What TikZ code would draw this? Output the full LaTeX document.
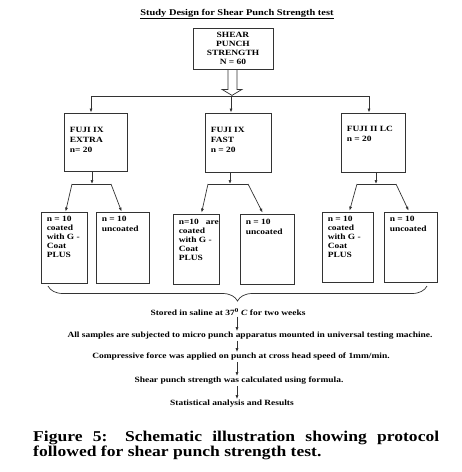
\documentclass[tikz,border=0pt]{standalone}
\usepackage{fontspec}
\setmainfont{Liberation Serif}
\newfontfamily\dfont[FakeStretch=1.18]{Liberation Serif}
\newfontfamily\cfont[FakeStretch=1.17]{Liberation Serif}
\usetikzlibrary{arrows.meta,calc,decorations.pathreplacing}
\begin{document}
\begin{tikzpicture}[x=1pt,y=-1pt]
\tikzset{
 bx/.style={draw=black!80, line width=0.8pt, inner sep=0pt},
 btxt/.style={font=\dfont\bfseries\fontsize{8}{9}\selectfont, align=left, inner sep=0pt, anchor=north west},
 btxtw/.style={font=\dfont\bfseries\fontsize{8}{10}\selectfont, align=left, inner sep=0pt, anchor=north west},
 ln/.style={draw=black!80, line width=0.7pt},
 arr/.style={ln, -{Latex[length=4pt,width=3pt]}},
 flow/.style={font=\dfont\bfseries\fontsize{8}{9}\selectfont, inner sep=1pt},
}
\useasboundingbox[fill=white] (0,0) rectangle (462,472);

\node[font=\dfont\bfseries\fontsize{8.8}{10}\selectfont] (title) at (237,14) {\underline{Study Design for Shear Punch Strength test}};

\node[bx, minimum width=80pt, minimum height=41pt, align=center, font=\dfont\bfseries\fontsize{8}{9}\selectfont] (top) at (233,48.5) {SHEAR\\PUNCH\\STRENGTH\\N = 60};

\draw[ln] ($(top.south)+(-5,0)$) -- ($(top.south)+(-5,20)$) -- ($(top.south)+(-11,20)$) -- ($(top.south)+(-1,26)$) -- ($(top.south)+(9,20)$) -- ($(top.south)+(4,20)$) -- ($(top.south)+(4,0)$);

\node[bx, minimum width=63pt, minimum height=58pt] (f1) at (95.5,142) {};
\node[bx, minimum width=66pt, minimum height=59pt] (f2) at (238,142.5) {};
\node[bx, minimum width=64pt, minimum height=59pt] (f3) at (373,142.5) {};
\node[btxtw] (f1t) at ($(f1.north west)+(6,14)$) {FUJI IX\\EXTRA\\n= 20};
\node[btxtw] (f2t) at ($(f2.north west)+(6,14)$) {FUJI IX\\FAST\\n = 20};
\node[btxtw] (f3t) at ($(f3.north west)+(6,13)$) {FUJI II LC\\n = 20};

\coordinate (h1) at (91,96);
\coordinate (h2) at (231,96);
\coordinate (h3) at (369,96);
\draw[ln] (h1) -- (h3);
\draw[arr] (h1) -- (h1 |- f1.north);
\draw[arr] (h2) -- (h2 |- f2.north);
\draw[arr] (h3) -- (h3 |- f3.north);

\node[bx, minimum width=46pt, minimum height=71pt] (s1a) at (64,247.5) {};
\node[bx, minimum width=53pt, minimum height=71pt] (s1b) at (122.5,247.5) {};
\node[bx, minimum width=46pt, minimum height=70pt] (s2a) at (196,249) {};
\node[bx, minimum width=54pt, minimum height=70pt] (s2b) at (267,249) {};
\node[bx, minimum width=51pt, minimum height=70pt] (s3a) at (347.5,247) {};
\node[bx, minimum width=53pt, minimum height=70pt] (s3b) at (410.5,247) {};

\node[btxt] (s1at) at ($(s1a.north west)+(6,4)$) {n = 10\\coated\\with G -\\Coat\\PLUS};
\node[btxtw] (s1bt) at ($(s1b.north west)+(6,4)$) {n = 10\\uncoated};
\node[btxt] (s2at) at ($(s2a.north west)+(6,5)$) {n=10~~ are\\coated\\with G -\\Coat\\PLUS};
\node[btxtw] (s2bt) at ($(s2b.north west)+(6,5)$) {n = 10\\uncoated};
\node[btxt] (s3at) at ($(s3a.north west)+(6,4)$) {n = 10\\coated\\with G -\\Coat\\PLUS};
\node[btxtw] (s3bt) at ($(s3b.north west)+(6,4)$) {n = 10\\uncoated};

\coordinate (j1) at (92,184);
\coordinate (j1l) at (72,184);
\coordinate (j1r) at (111,184);
\draw[arr] (j1 |- f1.south) -- (j1);
\draw[ln] (j1l) -- (j1r);
\draw[arr] (j1l) -- ($(s1a.north west)+(25,0)$);
\draw[arr] (j1r) -- ($(s1b.north west)+(26,0)$);

\coordinate (j2) at (230,184);
\coordinate (j2l) at (208,184);
\coordinate (j2r) at (248,184);
\draw[arr] (j2 |- f2.south) -- (j2);
\draw[ln] (j2l) -- (j2r);
\draw[arr] (j2l) -- ($(s2a.north west)+(29,-1)$);
\draw[arr] (j2r) -- ($(s2b.north west)+(23,-1)$);

\coordinate (j3) at (376,184);
\coordinate (j3l) at (357,184);
\coordinate (j3r) at (396,184);
\draw[arr] (j3 |- f3.south) -- (j3);
\draw[ln] (j3l) -- (j3r);
\draw[arr] (j3l) -- ($(s3a.north west)+(28,-1)$);
\draw[arr] (j3r) -- ($(s3b.north west)+(25,-1)$);

\coordinate (bl) at (48,286);
\coordinate (br) at (427,286);
\coordinate (tip) at (237,301);
\draw[ln, decorate, decoration={brace, amplitude=15pt, mirror}] (bl) -- (br);

\node[flow] (t1) at (228,312) {Stored in saline at 37\textsuperscript{0} \textit{C} for two weeks};
\node[flow] (t2) at (250,336) {All samples are subjected to micro punch apparatus mounted in universal testing machine.};
\node[flow] (t3) at (241,357) {Compressive force was applied on punch at cross head speed of 1mm/min.};
\node[flow] (t4) at (239,381) {Shear punch strength was calculated using formula.};
\node[flow] (t5) at (232,404) {Statistical analysis and Results};

\draw[arr] (t1.south -| tip) -- (t2.north -| tip);
\draw[arr] (t2.south -| tip) -- (t3.north -| tip);
\draw[arr] (t3.south -| tip) -- (t4.north -| tip);
\draw[arr] (t4.south -| tip) -- (t5.north -| tip);

\node[font=\cfont\bfseries\fontsize{15}{15}\selectfont, text width=406pt, align=justify, inner sep=0pt, anchor=north west] (cap) at (33,431) {Figure 5: Schematic illustration showing protocol\linebreak followed for shear punch strength test.};
\end{tikzpicture}
\end{document}
